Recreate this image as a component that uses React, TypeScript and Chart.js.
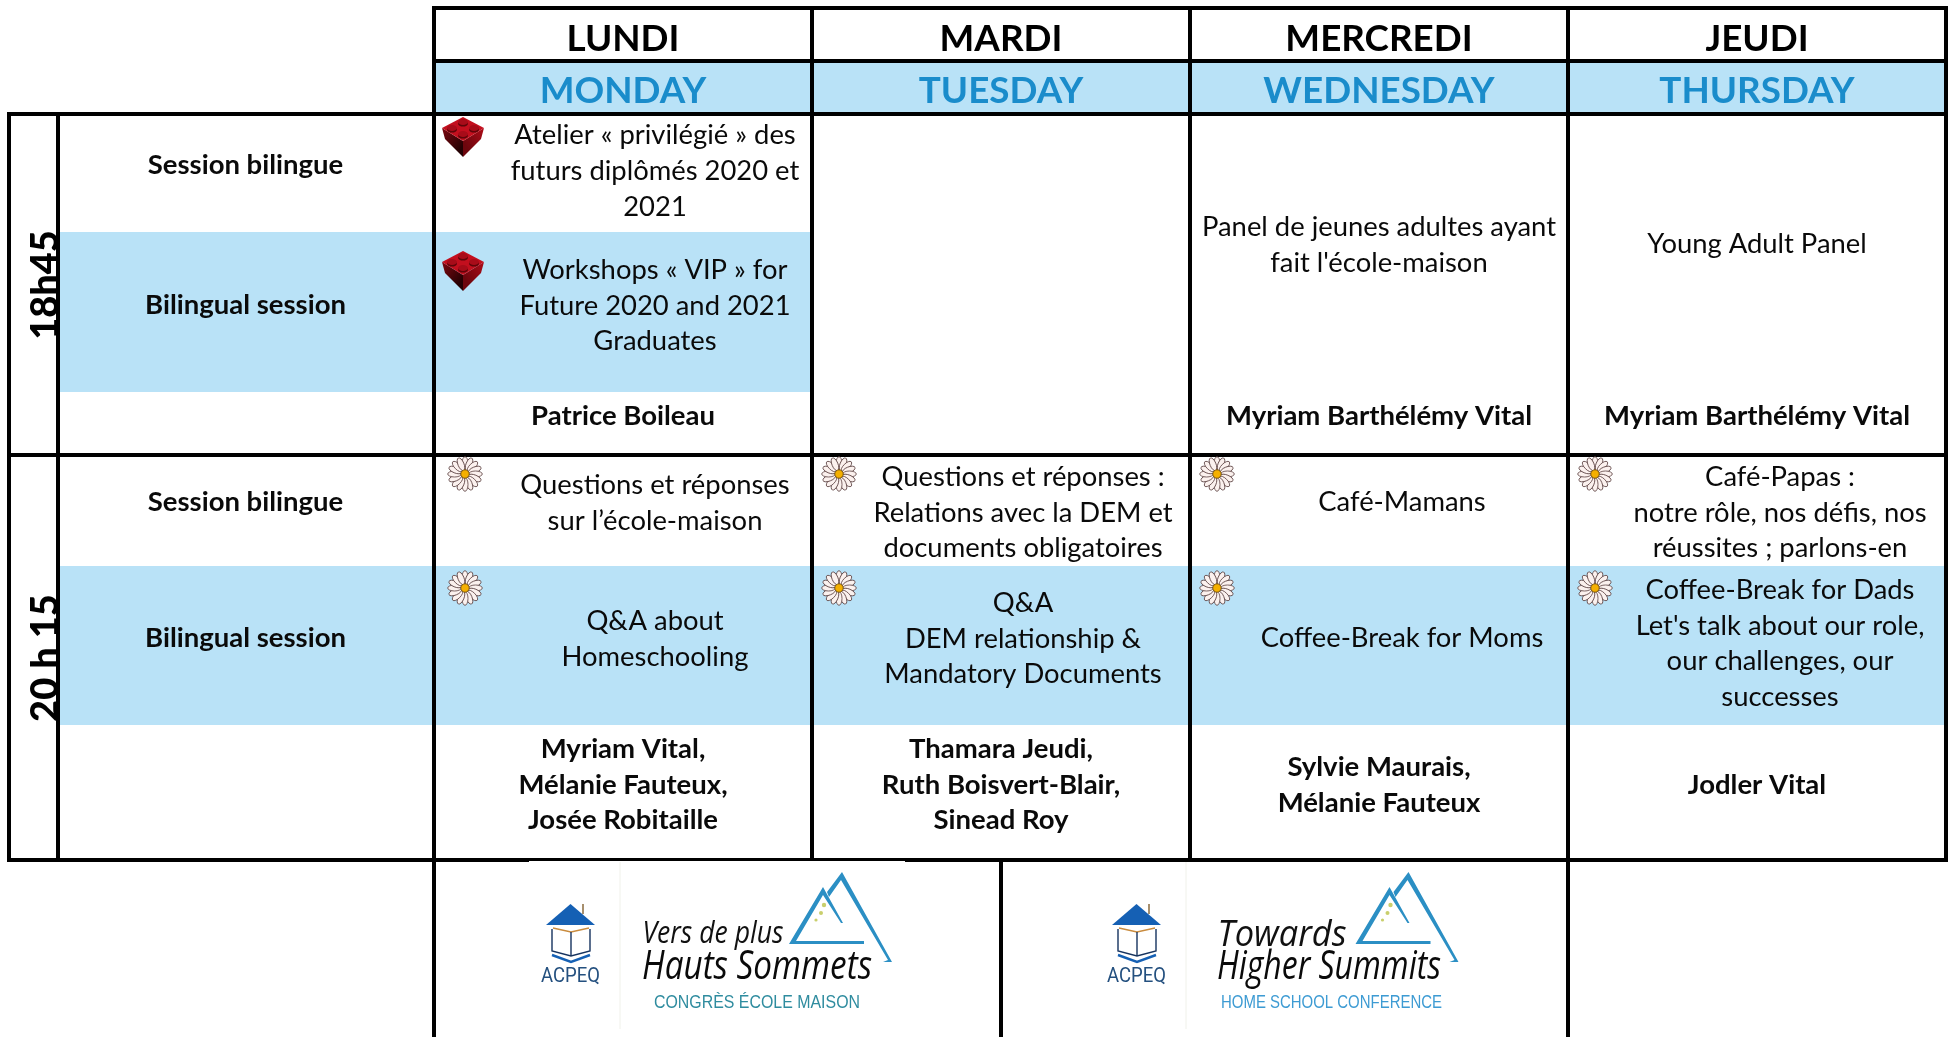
import React, { useEffect, useRef } from "react";
import { Chart, registerables } from "chart.js";

Chart.register(...registerables);

/* ---------- text content ---------- */
const daysFr = ["LUNDI", "MARDI", "MERCREDI", "JEUDI"];
const daysEn = ["MONDAY", "TUESDAY", "WEDNESDAY", "THURSDAY"];
const timeSlots = ["18h45", "20 h 15"];
const sessionFr = "Session bilingue";
const sessionEn = "Bilingual session";

const mondayEarlyFr = ["Atelier « privilégié » des", "futurs diplômés 2020 et", "2021"];
const mondayEarlyEn = ["Workshops « VIP » for", "Future 2020 and 2021", "Graduates"];
const wednesdayEarlyFr = ["Panel de jeunes adultes ayant", "fait l'école-maison"];
const thursdayEarlyEn = ["Young Adult Panel"];
const mondayLateFr = ["Questions et réponses", "sur l’école-maison"];
const mondayLateEn = ["Q&A about", "Homeschooling"];
const tuesdayLateFr = ["Questions et réponses :", "Relations avec la DEM et", "documents obligatoires"];
const tuesdayLateEn = ["Q&A", "DEM relationship &", "Mandatory Documents"];
const wednesdayLateFr = ["Café-Mamans"];
const wednesdayLateEn = ["Coffee-Break for Moms"];
const thursdayLateFr = ["Café-Papas :", "notre rôle, nos défis, nos", "réussites ; parlons-en"];
const thursdayLateEn = ["Coffee-Break for Dads", "Let's talk about our role,", "our challenges, our", "successes"];

const speakersEarlyMon = ["Patrice Boileau"];
const speakersEarlyWed = ["Myriam Barthélémy Vital"];
const speakersEarlyThu = ["Myriam Barthélémy Vital"];
const speakersLateMon = ["Myriam Vital,", "Mélanie Fauteux,", "Josée Robitaille"];
const speakersLateTue = ["Thamara Jeudi,", "Ruth Boisvert-Blair,", "Sinead Roy"];
const speakersLateWed = ["Sylvie Maurais,", "Mélanie Fauteux"];
const speakersLateThu = ["Jodler Vital"];

const logoFr = ["Vers de plus", "Hauts Sommets", "CONGRÈS ÉCOLE MAISON"];
const logoEn = ["Towards", "Higher Summits", "HOME SCHOOL CONFERENCE"];
const logoOrg = "ACPEQ";

/* ---------- table geometry, in the units of the two axes ---------- */
const W = 1954;
const H = 1037;
const colX = [434, 812, 1190, 1568, 1946];
const colMid = [623, 1001, 1379, 1757];
const rowY = [8, 61, 114, 455, 860];
const LEFT = 9;
const LABEL_X = 58;
const LOGO_X = 1001;
const LINE = 35.8;

const BLUE_BAND = "#b9e2f7";
const BLUE_TEXT = "#1a8ccb";
const BODY = "'Lato', sans-serif";
const BODY_SIZE = 27.4;
const BOLD_SIZE = 27.5;
const HEAD_SIZE = 36.8;
const TEXT_DY = 1;

type Block = { lines: string[]; x: number; y: number; bold?: boolean };
const blocks: Block[] = [
  { lines: [sessionFr], x: 245.5, y: 164.5, bold: true },
  { lines: [sessionEn], x: 245.5, y: 304.5, bold: true },
  { lines: [sessionFr], x: 245.5, y: 501.5, bold: true },
  { lines: [sessionEn], x: 245.5, y: 637.5, bold: true },
  { lines: mondayEarlyFr, x: 655, y: 134.5 },
  { lines: mondayEarlyEn, x: 655, y: 269 },
  { lines: speakersEarlyMon, x: colMid[0], y: 415, bold: true },
  { lines: wednesdayEarlyFr, x: colMid[2], y: 226 },
  { lines: thursdayEarlyEn, x: colMid[3], y: 243.5 },
  { lines: speakersEarlyWed, x: colMid[2], y: 415, bold: true },
  { lines: speakersEarlyThu, x: colMid[3], y: 415, bold: true },
  { lines: mondayLateFr, x: 655, y: 484 },
  { lines: mondayLateEn, x: 655, y: 620 },
  { lines: tuesdayLateFr, x: 1023, y: 476 },
  { lines: tuesdayLateEn, x: 1023, y: 602 },
  { lines: wednesdayLateFr, x: 1402, y: 501.5 },
  { lines: wednesdayLateEn, x: 1402, y: 637.5 },
  { lines: thursdayLateFr, x: 1780, y: 476 },
  { lines: thursdayLateEn, x: 1780, y: 589 },
  { lines: speakersLateMon, x: colMid[0], y: 748, bold: true },
  { lines: speakersLateTue, x: colMid[1], y: 748, bold: true },
  { lines: speakersLateWed, x: colMid[2], y: 766, bold: true },
  { lines: speakersLateThu, x: colMid[3], y: 784, bold: true },
];

/* ---------- marks ---------- */
const brickSpots = [{ x: 463, y: 137 }, { x: 463, y: 271 }];
const daisySpots = [
  { x: 465, y: 474 }, { x: 839, y: 474 }, { x: 1217, y: 474 }, { x: 1595, y: 474 },
  { x: 465, y: 588 }, { x: 839, y: 588 }, { x: 1217, y: 588 }, { x: 1595, y: 588 },
];

function makeBrick(): HTMLCanvasElement {
  const c = document.createElement("canvas");
  c.width = 44; c.height = 42;
  const g = c.getContext("2d")!;
  const poly = (pts: number[][], fill: string | CanvasGradient) => {
    g.beginPath();
    pts.forEach((p, i) => (i ? g.lineTo(p[0], p[1]) : g.moveTo(p[0], p[1])));
    g.closePath();
    g.fillStyle = fill;
    g.fill();
  };
  const left = g.createLinearGradient(1, 14, 22, 30);
  left.addColorStop(0, "#7a0810");
  left.addColorStop(1, "#240103");
  poly([[1, 12], [22, 25], [22, 41], [4, 23]], left);
  const right = g.createLinearGradient(22, 25, 43, 12);
  right.addColorStop(0, "#6d060d");
  right.addColorStop(1, "#ad0c19");
  poly([[43, 12], [22, 25], [22, 41], [40, 23]], right);
  poly([[22, 1], [43, 12], [22, 25], [1, 12]], "#c30f1e");
  [[22, 6], [11, 12], [33, 12], [22, 18]].forEach(([x, y]) => {
    g.beginPath();
    g.ellipse(x, y + 1.6, 5, 3, 0, 0, Math.PI * 2);
    g.fillStyle = "#5f0509";
    g.fill();
    g.beginPath();
    g.ellipse(x, y, 5, 3, 0, 0, Math.PI * 2);
    g.fillStyle = "#a80c19";
    g.fill();
  });
  return c;
}

function makeDaisy(): HTMLCanvasElement {
  const c = document.createElement("canvas");
  c.width = 36; c.height = 36;
  const g = c.getContext("2d")!;
  g.translate(18, 18);
  for (let i = 0; i < 16; i++) {
    g.save();
    g.rotate((i * Math.PI) / 8);
    g.beginPath();
    g.ellipse(0, -10.5, 3, 6.8, 0, 0, Math.PI * 2);
    g.fillStyle = "#fbf1ee";
    g.fill();
    g.lineWidth = 0.8;
    g.strokeStyle = "#5a4040";
    g.stroke();
    g.restore();
  }
  g.beginPath();
  g.arc(0, 0, 4.2, 0, Math.PI * 2);
  g.fillStyle = "#f5b000";
  g.fill();
  g.lineWidth = 0.8;
  g.strokeStyle = "#6a4a10";
  g.stroke();
  return c;
}

const seg = (x0: number, y0: number, x1: number, y1: number) => ({
  type: "line" as const,
  data: [{ x: x0, y: y0 }, { x: x1, y: y1 }],
  borderColor: "#000",
  borderWidth: 4,
  pointRadius: 0,
  order: 1,
});
const band = (x0: number, x1: number, top: number, bottom: number, color = BLUE_BAND, order = 5) => ({
  type: "line" as const,
  data: [{ x: x0, y: top }, { x: x1, y: top }],
  borderWidth: 0,
  pointRadius: 0,
  fill: { value: bottom },
  backgroundColor: color,
  order,
});

function drawText(ctx: CanvasRenderingContext2D, text: string, x: number, y: number, font: string, color: string, maxW?: number) {
  ctx.font = font;
  ctx.fillStyle = color;
  ctx.textAlign = "center";
  ctx.textBaseline = "middle";
  if (maxW) ctx.fillText(text, x, y, maxW);
  else ctx.fillText(text, x, y);
}

function drawLogo(ctx: CanvasRenderingContext2D, X: (v: number) => number, Y: (v: number) => number, dx: number, words: string[], fr: boolean) {
  const px = (x: number) => X(x + dx);
  const path = (pts: number[][]) => {
    ctx.beginPath();
    pts.forEach((p, i) => (i ? ctx.lineTo(px(p[0]), Y(p[1])) : ctx.moveTo(px(p[0]), Y(p[1]))));
  };
  // separator
  ctx.strokeStyle = "#f0f1ea";
  ctx.lineWidth = 1;
  path([[620, 862], [620, 1029]]);
  ctx.stroke();
  // house
  path([[570.5, 904], [595, 925], [546, 925]]);
  ctx.closePath();
  ctx.fillStyle = "#1560b4";
  ctx.fill();
  path([[583, 914], [583, 904]]);
  ctx.strokeStyle = "#8a6a3c";
  ctx.lineWidth = 1.5;
  ctx.stroke();
  // book
  ctx.lineWidth = 1.4;
  ctx.strokeStyle = "#c98b3e";
  path([[553, 928], [571, 932], [589, 928]]);
  ctx.stroke();
  ctx.strokeStyle = "#16335f";
  path([[552, 929], [552, 951], [571, 956], [590, 951], [590, 929]]);
  ctx.stroke();
  path([[571, 932], [571, 956]]);
  ctx.stroke();
  // chevrons
  ctx.strokeStyle = "#1560b4";
  ctx.lineWidth = 2.4;
  path([[552, 955], [571, 962], [590, 955]]);
  ctx.stroke();
  drawText(ctx, logoOrg, px(570.5), Y(977), "21px 'Liberation Sans Narrow','Roboto',sans-serif", "#24507f", 59);
  // words
  drawText(ctx, words[0], X(fr ? 713 : 1282), Y(fr ? 934 : 936), `italic ${fr ? 31 : 36}px 'Open Sans',sans-serif`, "#111", fr ? 141 : 129);
  drawText(ctx, words[1], X(fr ? 757 : 1329), Y(968), "italic 500 40px 'Open Sans',sans-serif", "#0a0a0a", fr ? 230 : 224);
  drawText(ctx, words[2], X(fr ? 757 : 1331.5), Y(1003.5), "18px 'Liberation Sans','Arimo',sans-serif", fr ? "#2f8c9f" : "#3d9bd3", fr ? 206 : 221);
  // mountains
  const off = fr ? 0 : 566.5;
  const mx = (x: number) => X(x + off);
  const poly = (pts: number[][], color: string) => {
    ctx.beginPath();
    pts.forEach((p, i) => (i ? ctx.lineTo(mx(p[0]), Y(p[1])) : ctx.moveTo(mx(p[0]), Y(p[1]))));
    ctx.closePath();
    ctx.fillStyle = color;
    ctx.fill();
  };
  const c1 = "#2b8fc4";
  poly([[842, 872], [892, 962], [883, 962], [888, 960], [841, 880], [829, 897], [827, 892]], c1);
  poly([[823, 887], [843, 923], [841, 923], [823, 895], [796, 941], [864, 941], [864, 944], [789, 944]], c1);
  [[824, 905, 2.2], [821, 913, 2], [816, 920, 1.6]].forEach(([x, y, r]) => {
    ctx.beginPath();
    ctx.arc(mx(x), Y(y), r, 0, Math.PI * 2);
    ctx.fillStyle = "#c9cf6c";
    ctx.fill();
  });
}

export default function App() {
  const ref = useRef<HTMLCanvasElement | null>(null);
  useEffect(() => {
    document.body.style.margin = "0";
    const brick = makeBrick();
    const daisy = makeDaisy();

    const beforePlugin = {
      id: "timeLabels",
      beforeDatasetsDraw(chart: any) {
        const { ctx, scales } = chart;
        const X = (v: number) => scales.x.getPixelForValue(v);
        const Y = (v: number) => scales.y.getPixelForValue(v);
        ctx.save();
        [[285, timeSlots[0]], [658, timeSlots[1]]].forEach(([mid, label]: any) => {
          ctx.save();
          ctx.translate(X(46), Y(mid));
          ctx.rotate(-Math.PI / 2);
          drawText(ctx, label, 0, 0, `900 38px ${BODY}`, "#000");
          ctx.restore();
        });
        ctx.restore();
      },
    };
    const textPlugin = {
      id: "tableText",
      afterDatasetsDraw(chart: any) {
        const { ctx, scales } = chart;
        const X = (v: number) => scales.x.getPixelForValue(v);
        const Y = (v: number) => scales.y.getPixelForValue(v);
        ctx.save();
        daysFr.forEach((d, i) => drawText(ctx, d, X(colMid[i]), Y(38 + TEXT_DY), `bold ${HEAD_SIZE}px ${BODY}`, "#000"));
        daysEn.forEach((d, i) => drawText(ctx, d, X(colMid[i]), Y(90.5 + TEXT_DY), `bold ${HEAD_SIZE}px ${BODY}`, BLUE_TEXT));
        blocks.forEach((b) => {
          b.lines.forEach((line, i) => {
            const font = `${b.bold ? "bold " : ""}${b.bold ? BOLD_SIZE : BODY_SIZE}px ${BODY}`;
            drawText(ctx, line, X(b.x), Y(b.y + TEXT_DY + i * LINE), font, "#0a0a0a");
          });
        });
        drawLogo(ctx, X, Y, 0, logoFr, true);
        drawLogo(ctx, X, Y, 566, logoEn, false);
        ctx.restore();
      },
    };

    const chart = new Chart(ref.current!, {
      type: "line",
      data: {
        datasets: [
          band(436, 1944, 63, 112),
          band(60, 810, 232, 392),
          band(60, 1944, 566, 725),
          band(529, 905, 861, 863, "#fff", 0),
          ...colX.map((x, i) => seg(x, 6, x, i === 0 || i === 3 ? H : rowY[4] + 2)),
          seg(LOGO_X, rowY[4], LOGO_X, H),
          seg(LEFT, 112, LEFT, 862),
          seg(LABEL_X, 112, LABEL_X, 862),
          seg(432, rowY[0], 1948, rowY[0]),
          seg(432, rowY[1], 1948, rowY[1]),
          seg(7, rowY[2], 1948, rowY[2]),
          seg(7, rowY[3], 1948, rowY[3]),
          seg(7, rowY[4], 1948, rowY[4]),
          {
            type: "line",
            data: brickSpots,
            showLine: false,
            pointStyle: brick,
            pointRadius: 20,
            order: 0,
          },
          {
            type: "line",
            data: daisySpots,
            showLine: false,
            pointStyle: daisy,
            pointRadius: 18,
            order: 0,
          },
        ] as any,
      },
      options: {
        responsive: false,
        animation: false,
        events: [],
        layout: { padding: 0, autoPadding: false },
        plugins: { legend: { display: false }, tooltip: { enabled: false } },
        scales: {
          x: { type: "linear", min: 0, max: W, display: false },
          y: { type: "linear", min: 0, max: H, reverse: true, display: false },
        },
      },
      plugins: [beforePlugin, textPlugin],
    });
    return () => chart.destroy();
  }, []);
  return (
    <div style={{ position: "absolute", left: 0, top: 0, width: W, height: H, background: "#fff" }}>
      <canvas ref={ref} width={W} height={H} style={{ display: "block", width: W, height: H }} />
    </div>
  );
}
